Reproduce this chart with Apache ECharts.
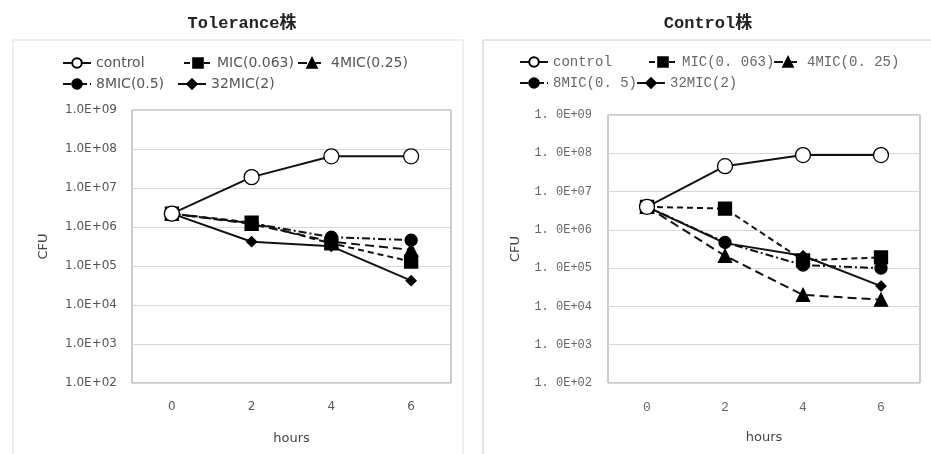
<!DOCTYPE html>
<html><head><meta charset="utf-8">
<script src="https://cdn.jsdelivr.net/npm/echarts@6/dist/echarts.min.js"></script>
<style>html,body{margin:0;padding:0;background:#fff}#c{width:931px;height:454px}</style>
</head><body><div id="c"></div>
<script>
const hours = ['0','2','4','6'];
const seriesNames = ['control','MIC(0.063)','4MIC(0.25)','8MIC(0.5)','32MIC(2)'];
const tolControl = [2.2e6, 1.9e7, 6.5e7, 6.5e7];
const tolMIC = [2.2e6, 1.3e6, 3.8e5, 1.3e5];
const tol4MIC = [2.2e6, 1.2e6, 4.2e5, 2.6e5];
const tol8MIC = [2.2e6, 1.25e6, 5.5e5, 4.6e5];
const tol32MIC = [2.2e6, 4.2e5, 3.2e5, 4.2e4];
const ctlControl = [4e6, 4.6e7, 9e7, 9e7];
const ctlMIC = [4e6, 3.6e6, 1.6e5, 1.9e5];
const ctl4MIC = [4e6, 2.1e5, 2e4, 1.5e4];
const ctl8MIC = [4e6, 4.7e5, 1.2e5, 1.0e5];
const ctl32MIC = [4e6, 4.5e5, 2.1e5, 3.4e4];
const titles = ['Tolerance株', 'Control株'];

const chart = echarts.init(document.getElementById('c'));
const styles = [
  {symbol:'circle', size:15, color:'#fff', line:'solid'},
  {symbol:'rect', size:13, color:'#000', line:[6,4]},
  {symbol:'triangle', size:13, color:'#000', line:[9,5]},
  {symbol:'circle', size:12, color:'#000', line:[8,3,2,3]},
  {symbol:'diamond', size:10, color:'#000', line:'solid'}
];
const tolData = [tolControl, tolMIC, tol4MIC, tol8MIC, tol32MIC];
const ctlData = [ctlControl, ctlMIC, ctl4MIC, ctl8MIC, ctl32MIC];
function mkSeries(data, idx){
  return data.map((d,i)=>({
    name: seriesNames[i], type:'line', xAxisIndex:idx, yAxisIndex:idx,
    data:d, symbol:styles[i].symbol, symbolSize:styles[i].size,
    itemStyle:{color:styles[i].color, borderColor:'#000', borderWidth:1.3},
    lineStyle:{color:'#111', width:2, type:styles[i].line},
    z: 10 - i, animation:false
  }));
}
const expFmt = (sep)=> v => {
  const e = Math.round(Math.log10(v));
  return '1' + sep + '0E+' + (e<10?'0':'') + e;
};
const sansF = 'DejaVu Sans, sans-serif';
const monoF = 'Liberation Mono, monospace';
function legendItem(name, left, top, fontFamily, size, color, spaced){
  return {data:[name], left:left, top:top, itemWidth:28, itemHeight:12, itemGap:4,
    padding:0,
    formatter: spaced ? (n => n.replace('.', '. ')) : (n => n),
    textStyle:{fontSize:size, color:color, fontFamily:fontFamily}, selectedMode:false};
}
const legends = [
  legendItem('control', 62, 56, sansF, 14, '#555', false),
  legendItem('MIC(0.063)', 183, 56, sansF, 14, '#555', false),
  legendItem('4MIC(0.25)', 297, 56, sansF, 14, '#555', false),
  legendItem('8MIC(0.5)', 62, 77, sansF, 14, '#555', false),
  legendItem('32MIC(2)', 177, 77, sansF, 14, '#555', false),
  legendItem('control', 519, 55, monoF, 14, '#666', true),
  legendItem('MIC(0.063)', 648, 55, monoF, 14, '#666', true),
  legendItem('4MIC(0.25)', 773, 55, monoF, 14, '#666', true),
  legendItem('8MIC(0.5)', 519, 76, monoF, 14, '#666', true),
  legendItem('32MIC(2)', 636, 76, monoF, 14, '#666', true)
];
function yAx(idx, sep, ff){
  return {type:'log', logBase:10, min:100, max:1e9, gridIndex:idx,
    name:'CFU', nameLocation:'middle', nameGap: idx===0?82:86, nameRotate:90,
    nameTextStyle:{fontSize:13, color:'#444', fontFamily:sansF},
    axisLine:{show:false}, axisTick:{show:false},
    axisLabel:{formatter:expFmt(sep), color:idx===0?'#555':'#666', fontSize:12, fontFamily:ff, margin:idx===0?15:16},
    splitLine:{show:true, lineStyle:{color:'#d6d6d6', width:1}}};
}
function xAx(idx, ff){
  return {type:'category', data:hours, gridIndex:idx, boundaryGap:true,
    name:'hours', nameLocation:'middle', nameGap:idx===0?49:48,
    nameTextStyle:{fontSize:13, color:'#444', fontFamily:sansF},
    axisLine:{show:false}, axisTick:{show:false},
    axisLabel:{color:idx===0?'#555':'#666', fontSize:idx===0?12:13, fontFamily:ff, margin:18}};
}
const titleF = 'Liberation Mono, Noto Sans CJK JP, monospace';
chart.setOption({
  backgroundColor:'#fff',
  title:[
    {text:titles[0], left:237, top:10, textAlign:'center', textStyle:{fontSize:17, fontWeight:'bold', color:'#222', fontFamily:titleF}},
    {text:titles[1], left:703, top:10, textAlign:'center', textStyle:{fontSize:17, fontWeight:'bold', color:'#222', fontFamily:titleF}}
  ],
  graphic:[
    {type:'rect', shape:{x:13, y:40, width:450, height:420}, style:{fill:'none', stroke:'#ddd', lineWidth:1}},
    {type:'rect', shape:{x:483, y:40, width:460, height:420}, style:{fill:'none', stroke:'#ccc', lineWidth:1}}
  ],
  legend: legends,
  grid:[
    {left:132, top:110, width:319, height:273, show:true, borderColor:'#999', borderWidth:1, backgroundColor:'transparent'},
    {left:608, top:115, width:312, height:268, show:true, borderColor:'#999', borderWidth:1, backgroundColor:'transparent'}
  ],
  xAxis:[xAx(0, sansF), xAx(1, monoF)],
  yAxis:[yAx(0, '.', sansF), yAx(1, '. ', monoF)],
  series:[...mkSeries(tolData,0), ...mkSeries(ctlData,1)]
});
</script></body></html>
